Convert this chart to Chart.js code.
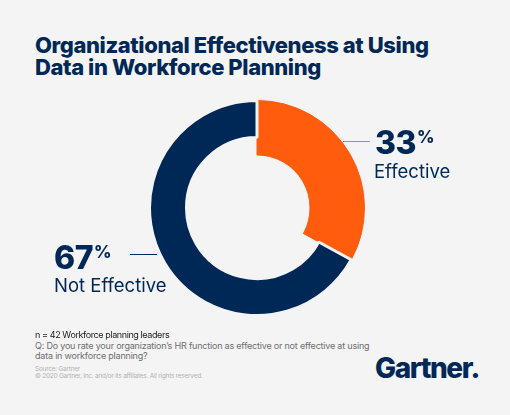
<!DOCTYPE html>
<html>
<head>
<meta charset="utf-8">
<script src="https://cdn.jsdelivr.net/npm/chart.js@4.4.1/dist/chart.umd.min.js"></script>
<style>
  html, body { margin: 0; padding: 0; }
  body { width: 510px; height: 415px; background: #f4f4f5; position: relative; overflow: hidden; font-family: Inter, "Noto Sans", sans-serif; color: #002856; }
  #donut { position: absolute; left: 148px; top: 99px; }
  .abs { position: absolute; white-space: nowrap; line-height: 1; }
  .title { left: 35px; top: 34px; font-size: 22px; line-height: 22px; font-weight: 800; letter-spacing: -0.4px; }
  .pct { font-size: 32px; font-weight: 800; letter-spacing: -0.5px; }
  .pct sup { font-size: 17px; font-weight: 800; vertical-align: 0; position: relative; top: -11px; margin-left: 1px; }
  .cat { font-size: 18.5px; font-weight: 400; }
  .lead { position: absolute; height: 0; border-top: 1.3px solid #8c95aa; }
  .n { left: 35px; top: 330px; font-size: 9px; letter-spacing: -0.4px; color: #1c1c1c; }
  .q { left: 35px; top: 341px; font-size: 9px; line-height: 10px; letter-spacing: -0.2px; color: #6e6e6e; }
  .src { left: 35px; top: 366px; font-size: 6.5px; line-height: 7px; letter-spacing: -0.25px; color: #b2b2b2; }
  .logo { left: 375px; top: 354px; font-size: 28px; font-weight: 800; letter-spacing: -1.4px; color: #002856; }
</style>
</head>
<body>
<div class="abs title">Organizational Effectiveness at Using<br>Data in Workforce Planning</div>

<canvas id="donut" width="218" height="218"></canvas>

<div class="lead" style="left:343px; top:141px; width:27px;"></div>
<div class="abs pct" id="pct0" style="left:375px; top:127px;"></div>
<div class="abs cat" id="cat0" style="left:374px; top:162px;"></div>

<div class="lead" style="left:130px; top:254px; width:27px; border-top-color:#002856;"></div>
<div class="abs pct" id="pct1" style="left:54px; top:242px;"></div>
<div class="abs cat" id="cat1" style="left:54px; top:276px;"></div>

<div class="abs n">n = 42 Workforce planning leaders</div>
<div class="abs q">Q: Do you rate your organization’s HR function as effective or not effective at using<br>data in workforce planning?</div>
<div class="abs src">Source: Gartner<br>© 2020 Gartner, Inc. and/or its affiliates. All rights reserved.</div>
<div class="abs logo">Gartner.</div>

<script>
const categories = ['Effective', 'Not Effective'];
const shares = [33, 67];
const sliceColors = ['#ff5c0d', '#002856'];
const background = '#f4f4f5';

// etiquetas das fatias a partir dos dados
categories.forEach((name, i) => {
  document.getElementById('pct' + i).innerHTML = shares[i] + '<sup>%</sup>';
  document.getElementById('cat' + i).textContent = name;
});

new Chart(document.getElementById('donut'), {
  type: 'doughnut',
  data: {
    labels: categories,
    datasets: [
      {
        // anel externo: as duas fatias
        data: shares,
        backgroundColor: sliceColors,
        borderColor: [sliceColors[0], background],
        borderWidth: [1, 3],
        weight: 37
      },
      {
        // anel interno: so a fatia laranja fica mais grossa
        data: shares,
        backgroundColor: [sliceColors[0], 'rgba(0,0,0,0)'],
        borderColor: [sliceColors[0], 'rgba(0,0,0,0)'],
        borderWidth: [1, 0],
        weight: 17.5
      }
    ]
  },
  options: {
    responsive: false,
    animation: false,
    cutout: '49.3%',
    plugins: {
      legend: { display: false },
      tooltip: { enabled: false }
    },
    events: []
  }
});
</script>
</body>
</html>
